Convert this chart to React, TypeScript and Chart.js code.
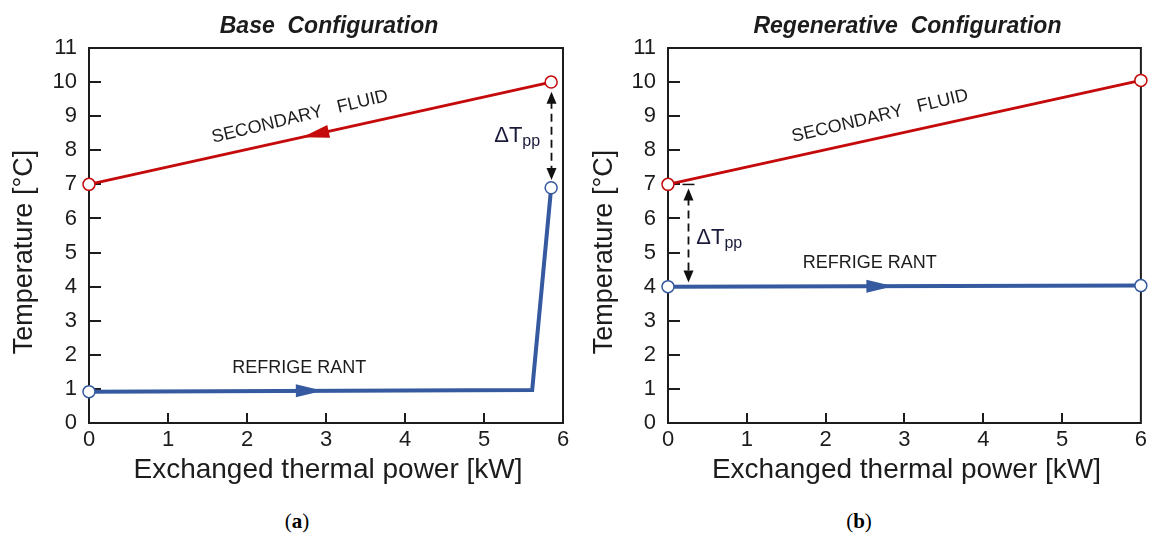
import React, { useEffect, useRef } from 'react';
import { Chart, registerables } from 'chart.js';

Chart.register(...registerables);

// ---------- shared axis data ----------
const xTickValues = [0, 1, 2, 3, 4, 5, 6];
const yTickValues = [0, 1, 2, 3, 4, 5, 6, 7, 8, 9, 10, 11];
const xAxisTitle = 'Exchanged thermal power [kW]';
const yAxisTitle = 'Temperature [°C]';
const panelTitles = ['Base Configuration', 'Regenerative Configuration'];
const captionLetters = ['a', 'b'];
const secondaryLabel = 'SECONDARY   FLUID';
const refrigerantLabel = 'REFRIGE RANT';

// ---------- (a) Base configuration ----------
const baseSecondaryX = [0, 5.85];
const baseSecondaryY = [7.0, 10.0];
const baseSecondaryMarker = [1, 1];
const baseRefrigerantX = [0, 5.61, 5.85];
const baseRefrigerantY = [0.92, 0.97, 6.9];
const baseRefrigerantMarker = [1, 0, 1];
const baseSecondaryArrowX = 2.7;
const baseRefrigerantArrowX = 2.96;
const baseSecondaryLabelXY = [2.67, 8.98];
const baseRefrigerantLabelXY = [2.66, 1.62];
const baseDeltaX = 5.85;
const baseDeltaY = [9.72, 7.13];
const baseDeltaLabelXY = [5.42, 8.45];

// ---------- (b) Regenerative configuration ----------
const regenSecondaryX = [0, 6];
const regenSecondaryY = [7.0, 10.05];
const regenSecondaryMarker = [1, 1];
const regenRefrigerantX = [0, 6];
const regenRefrigerantY = [4.0, 4.03];
const regenRefrigerantMarker = [1, 1];
const regenRefrigerantArrowX = 2.86;
const regenSecondaryLabelXY = [2.69, 9.0];
const regenRefrigerantLabelXY = [2.56, 4.7];
const regenDeltaX = 0.25;
const regenDeltaY = [6.88, 4.12];
const regenDeltaLabelXY = [0.65, 5.47];

// ---------- styling ----------
const FONT = "'Liberation Sans', Arial, Helvetica, sans-serif";
const RED = '#c40a0a';
const BLUE = '#355a9f';
const INK = '#1c1c1c';

type Series = { xs: number[]; ys: number[]; markers: number[]; color: string; width: number };
type Panel = {
  title: string;
  secondary: Series;
  refrigerant: Series;
  arrows: { series: 'secondary' | 'refrigerant'; x: number; reverse: boolean }[];
  labels: { text: string; xy: number[]; angle: number }[];
  delta: { x: number; y: number[]; label: number[]; cap: boolean };
  yAxisWidth: number;
  padRight: number;
  width: number;
};

const CANVAS_H = 495;
const PLOT_TOP = 48;
const PLOT_BOTTOM = 423;

const panels: Panel[] = [
  {
    title: panelTitles[0],
    secondary: { xs: baseSecondaryX, ys: baseSecondaryY, markers: baseSecondaryMarker, color: RED, width: 3 },
    refrigerant: { xs: baseRefrigerantX, ys: baseRefrigerantY, markers: baseRefrigerantMarker, color: BLUE, width: 4 },
    arrows: [
      { series: 'secondary', x: baseSecondaryArrowX, reverse: true },
      { series: 'refrigerant', x: baseRefrigerantArrowX, reverse: false },
    ],
    labels: [
      { text: secondaryLabel, xy: baseSecondaryLabelXY, angle: -13.5 },
      { text: refrigerantLabel, xy: baseRefrigerantLabelXY, angle: 0 },
    ],
    delta: { x: baseDeltaX, y: baseDeltaY, label: baseDeltaLabelXY, cap: false },
    yAxisWidth: 89,
    padRight: 12,
    width: 575,
  },
  {
    title: panelTitles[1],
    secondary: { xs: regenSecondaryX, ys: regenSecondaryY, markers: regenSecondaryMarker, color: RED, width: 3 },
    refrigerant: { xs: regenRefrigerantX, ys: regenRefrigerantY, markers: regenRefrigerantMarker, color: BLUE, width: 4 },
    arrows: [{ series: 'refrigerant', x: regenRefrigerantArrowX, reverse: false }],
    labels: [
      { text: secondaryLabel, xy: regenSecondaryLabelXY, angle: -13.5 },
      { text: refrigerantLabel, xy: regenRefrigerantLabelXY, angle: 0 },
    ],
    delta: { x: regenDeltaX, y: regenDeltaY, label: regenDeltaLabelXY, cap: true },
    yAxisWidth: 88,
    padRight: 10,
    width: 571,
  },
];

const canvasLefts = [0, 580];
const captionCenters = [297, 859];

function drawArrowHead(ctx: CanvasRenderingContext2D, tx: number, ty: number, ang: number, len: number, half: number, color: string) {
  const cx = Math.cos(ang), sy = Math.sin(ang);
  const bx = tx - len * cx, by = ty - len * sy;
  ctx.beginPath();
  ctx.moveTo(tx, ty);
  ctx.lineTo(bx - half * sy, by + half * cx);
  ctx.lineTo(bx + half * sy, by - half * cx);
  ctx.closePath();
  ctx.fillStyle = color;
  ctx.fill();
}

function makePlugin(p: Panel) {
  return {
    id: 'decor',
    beforeDatasetsDraw(chart: any) {
      const { ctx, chartArea: a, scales } = chart;
      const xs = scales.x, ys = scales.y;
      ctx.save();
      ctx.strokeStyle = INK;
      ctx.lineWidth = 2;
      // inward tick marks
      ctx.beginPath();
      xTickValues.forEach((v) => {
        if (v === xTickValues[0] || v === xTickValues[xTickValues.length - 1]) return;
        const px = Math.round(xs.getPixelForValue(v));
        ctx.moveTo(px, a.bottom);
        ctx.lineTo(px, a.bottom - 10);
      });
      yTickValues.forEach((v) => {
        if (v === yTickValues[0] || v === yTickValues[yTickValues.length - 1]) return;
        const py = Math.round(ys.getPixelForValue(v));
        ctx.moveTo(a.left, py);
        ctx.lineTo(a.left + 12, py);
      });
      ctx.stroke();
      // frame
      ctx.strokeRect(a.left, a.top, a.right - a.left, a.bottom - a.top);
      ctx.restore();
    },
    afterDatasetsDraw(chart: any) {
      const { ctx, chartArea: a, scales } = chart;
      const xs = scales.x, ys = scales.y;
      ctx.save();

      // flow arrows on the lines
      p.arrows.forEach((ar) => {
        const s = ar.series === 'secondary' ? p.secondary : p.refrigerant;
        let i = 0;
        while (i < s.xs.length - 2 && ar.x > s.xs[i + 1]) i++;
        const x1 = xs.getPixelForValue(s.xs[i]), y1 = ys.getPixelForValue(s.ys[i]);
        const x2 = xs.getPixelForValue(s.xs[i + 1]), y2 = ys.getPixelForValue(s.ys[i + 1]);
        const t = (ar.x - s.xs[i]) / (s.xs[i + 1] - s.xs[i]);
        const tx = x1 + t * (x2 - x1), ty = y1 + t * (y2 - y1);
        let ang = Math.atan2(y2 - y1, x2 - x1);
        if (ar.reverse) ang += Math.PI;
        drawArrowHead(ctx, tx, ty, ang, 27, 6.5, s.color);
      });

      // text labels
      ctx.fillStyle = INK;
      ctx.font = `18px ${FONT}`;
      ctx.textAlign = 'center';
      ctx.textBaseline = 'middle';
      p.labels.forEach((l) => {
        ctx.save();
        ctx.translate(xs.getPixelForValue(l.xy[0]), ys.getPixelForValue(l.xy[1]));
        ctx.rotate((l.angle * Math.PI) / 180);
        ctx.fillText(l.text, 0, 0);
        ctx.restore();
      });

      // delta T pinch point arrow
      const d = p.delta;
      const dx = Math.round(xs.getPixelForValue(d.x)) + 0.5;
      const yTop = ys.getPixelForValue(d.y[0]);
      const yBot = ys.getPixelForValue(d.y[1]);
      ctx.strokeStyle = '#111';
      ctx.lineWidth = 1.8;
      ctx.setLineDash([8, 5]);
      ctx.beginPath();
      ctx.moveTo(dx, yTop + 9);
      ctx.lineTo(dx, yBot - 9);
      ctx.stroke();
      ctx.setLineDash([]);
      drawArrowHead(ctx, dx, yTop, -Math.PI / 2, 12, 5, '#111');
      drawArrowHead(ctx, dx, yBot, Math.PI / 2, 12, 5, '#111');
      if (d.cap) {
        ctx.lineWidth = 1.5;
        ctx.beginPath();
        ctx.moveTo(dx - 6, yTop - 4);
        ctx.lineTo(dx + 6, yTop - 4);
        ctx.stroke();
      }
      // delta label
      const lx = xs.getPixelForValue(d.label[0]);
      const ly = ys.getPixelForValue(d.label[1]);
      ctx.font = `22px ${FONT}`;
      const w1 = ctx.measureText('\u0394T').width;
      ctx.font = `16px ${FONT}`;
      const w2 = ctx.measureText('pp').width;
      const start = lx - (w1 + w2) / 2;
      ctx.fillStyle = '#1a1a3a';
      ctx.textAlign = 'left';
      ctx.textBaseline = 'alphabetic';
      ctx.font = `22px ${FONT}`;
      ctx.fillText('\u0394T', start, ly + 7);
      ctx.font = `16px ${FONT}`;
      ctx.fillText('pp', start + w1, ly + 11);

      // panel title
      const cx = (a.left + a.right) / 2;
      ctx.fillStyle = INK;
      ctx.textAlign = 'center';
      ctx.textBaseline = 'alphabetic';
      ctx.font = `italic bold 23px ${FONT}`;
      ctx.fillText(p.title.replace(' ', '  '), cx + 3, 33);

      // axis titles
      ctx.font = `28px ${FONT}`;
      ctx.fillText(xAxisTitle, cx + 2, 478);
      ctx.save();
      ctx.translate(31.5, 252);
      ctx.rotate(-Math.PI / 2);
      ctx.font = `27px ${FONT}`;
      ctx.fillText(yAxisTitle, 0, 0);
      ctx.restore();

      ctx.restore();
    },
  };
}

function makeDataset(s: Series) {
  return {
    data: s.xs.map((x, i) => ({ x, y: s.ys[i] })),
    borderColor: s.color,
    borderWidth: s.width,
    pointRadius: s.markers.map((m) => (m ? 6 : 0)),
    pointHoverRadius: 0,
    pointBackgroundColor: '#ffffff',
    pointBorderColor: s.color,
    pointBorderWidth: 1.5,
    tension: 0,
    clip: false,
    fill: false,
  };
}

function PanelChart({ p, left }: { p: Panel; left: number }) {
  const ref = useRef<HTMLCanvasElement>(null);
  useEffect(() => {
    if (!ref.current) return;
    const chart = new Chart(ref.current, {
      type: 'line',
      data: { datasets: [makeDataset(p.secondary), makeDataset(p.refrigerant)] as any },
      options: {
        animation: false,
        responsive: false,
        maintainAspectRatio: false,
        events: [],
        layout: { padding: { top: PLOT_TOP, right: p.padRight, left: 0, bottom: 0 } },
        plugins: { legend: { display: false }, tooltip: { enabled: false }, title: { display: false } },
        scales: {
          x: {
            type: 'linear',
            min: xTickValues[0],
            max: xTickValues[xTickValues.length - 1],
            afterBuildTicks: (s: any) => {
              s.ticks = xTickValues.map((v) => ({ value: v }));
            },
            afterFit: (s: any) => {
              s.height = CANVAS_H - PLOT_BOTTOM;
            },
            ticks: { font: { family: FONT, size: 22 }, color: INK, padding: 4, maxRotation: 0, autoSkip: false },
            grid: { display: false, drawTicks: false },
            border: { display: false },
          },
          y: {
            type: 'linear',
            min: yTickValues[0],
            max: yTickValues[yTickValues.length - 1],
            afterBuildTicks: (s: any) => {
              s.ticks = yTickValues.map((v) => ({ value: v }));
            },
            afterFit: (s: any) => {
              s.width = p.yAxisWidth;
            },
            ticks: { font: { family: FONT, size: 22 }, color: INK, padding: 12, autoSkip: false },
            grid: { display: false, drawTicks: false },
            border: { display: false },
          },
        },
      } as any,
      plugins: [makePlugin(p)],
    });
    return () => chart.destroy();
  }, [p]);
  return (
    <canvas
      ref={ref}
      width={p.width}
      height={CANVAS_H}
      style={{ position: 'absolute', left, top: 0, width: p.width, height: CANVAS_H, display: 'block' }}
    />
  );
}

export default function App() {
  return (
    <div style={{ position: 'absolute', left: 0, top: 0, width: 1151, height: 540, background: '#fff', overflow: 'hidden' }}>
      {panels.map((p, i) => (
        <PanelChart key={i} p={p} left={canvasLefts[i]} />
      ))}
      {captionLetters.map((c, i) => (
        <div
          key={c}
          style={{
            position: 'absolute',
            left: captionCenters[i] - 50,
            width: 100,
            top: 508,
            textAlign: 'center',
            fontFamily: "'Liberation Serif', 'Times New Roman', serif",
            fontSize: 21,
            lineHeight: '26px',
            color: '#000',
          }}
        >
          (<b>{c}</b>)
        </div>
      ))}
    </div>
  );
}
